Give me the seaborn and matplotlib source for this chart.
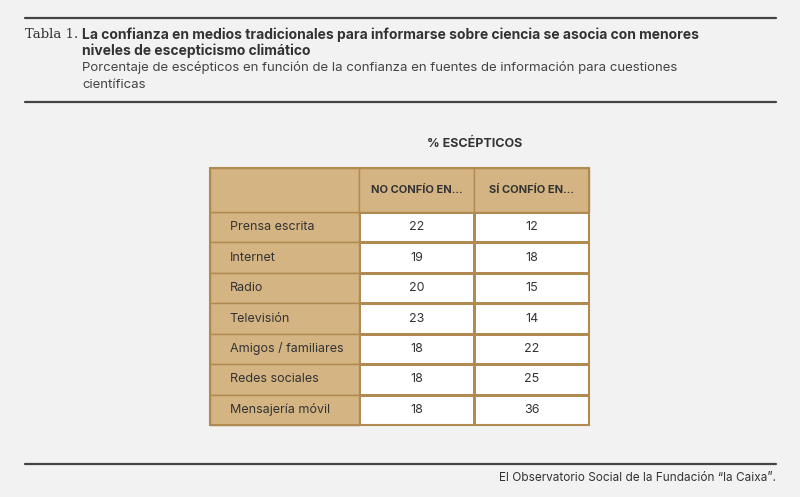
import numpy as np
import pandas as pd
import matplotlib
matplotlib.use("Agg")
import matplotlib.pyplot as plt
from matplotlib.patches import Rectangle
from matplotlib.colors import ListedColormap
import seaborn as sns

# Data
medios = ["Prensa escrita", "Internet", "Radio", "Televisión",
          "Amigos / familiares", "Redes sociales", "Mensajería móvil"]
no_confio = [22, 19, 20, 23, 18, 18, 18]
si_confio = [12, 18, 15, 14, 22, 25, 36]
columnas = ["NO CONFÍO EN...", "SÍ CONFÍO EN..."]

df = pd.DataFrame({columnas[0]: no_confio, columnas[1]: si_confio}, index=medios)

sns.set_theme(style="white")
plt.rcParams['font.family'] = ['Inter', 'DejaVu Sans']

bg = "#f2f2f2"
tan = "#d4b483"
edge = "#b08a50"
dark = "#333333"

W, H = 800, 497
fig = plt.figure(figsize=(8, 4.97), dpi=100, facecolor=bg)

# Header texts / rules
def line(y):
    fig.add_artist(plt.Line2D([25 / W, 776 / W], [1 - y / H] * 2, color="#444444", lw=1.6))
line(18); line(102); line(464)
fig.text(25 / W, 1 - 35 / H, "Tabla 1.", family="DejaVu Serif", fontsize=9.5, color=dark, va="center")
fig.text(82 / W, 1 - 35 / H, "La confianza en medios tradicionales para informarse sobre ciencia se asocia con menores",
         fontsize=10, weight="bold", color=dark, va="center")
fig.text(82 / W, 1 - 51 / H, "niveles de escepticismo climático", fontsize=10, weight="bold", color=dark, va="center")
fig.text(82 / W, 1 - 68 / H, "Porcentaje de escépticos en función de la confianza en fuentes de información para cuestiones",
         fontsize=9.5, color="#444444", va="center")
fig.text(82 / W, 1 - 85 / H, "científicas", fontsize=9.5, color="#444444", va="center")
fig.text(475 / W, 1 - 144 / H, "% ESCÉPTICOS", fontsize=9, weight="bold", color=dark, ha="center", va="center")
fig.text(776 / W, 1 - 478 / H, "El Observatorio Social de la Fundación “la Caixa”.", fontsize=8.5,
         color=dark, ha="right", va="center")

# Table body via heatmap
ax = fig.add_axes([359 / W, 1 - 425 / H, 230 / W, 213 / H])
sns.heatmap(df, ax=ax, cmap=ListedColormap(["white"]), cbar=False, annot=True, fmt="d",
            linewidths=1, linecolor=edge, annot_kws={"fontsize": 9, "color": dark})
ax.set_xticks([]); ax.set_yticks([])
ax.set_xlabel(""); ax.set_ylabel("")

row_h = 213 / 7
lab_w = 149 / 115
hdr_h = 44 / row_h
# label column
for i, m in enumerate(medios):
    ax.add_patch(Rectangle((-lab_w, i), lab_w, 1, facecolor=tan, edgecolor=edge, lw=1, clip_on=False))
    ax.text(-lab_w + 0.17, i + 0.5, m, fontsize=9, color=dark, va="center", ha="left")
# header row
ax.add_patch(Rectangle((-lab_w, -hdr_h), lab_w, hdr_h, facecolor=tan, edgecolor=edge, lw=1, clip_on=False))
for j, c in enumerate(columnas):
    ax.add_patch(Rectangle((j, -hdr_h), 1, hdr_h, facecolor=tan, edgecolor=edge, lw=1, clip_on=False))
    ax.text(j + 0.5, -hdr_h / 2, c, fontsize=8, weight="bold", color=dark, ha="center", va="center")
ax.add_patch(Rectangle((-lab_w, -hdr_h), lab_w + 2, 7 + hdr_h, facecolor="none", edgecolor=edge, lw=1.5, clip_on=False))

fig.savefig("out.png", dpi=100, facecolor=bg)
